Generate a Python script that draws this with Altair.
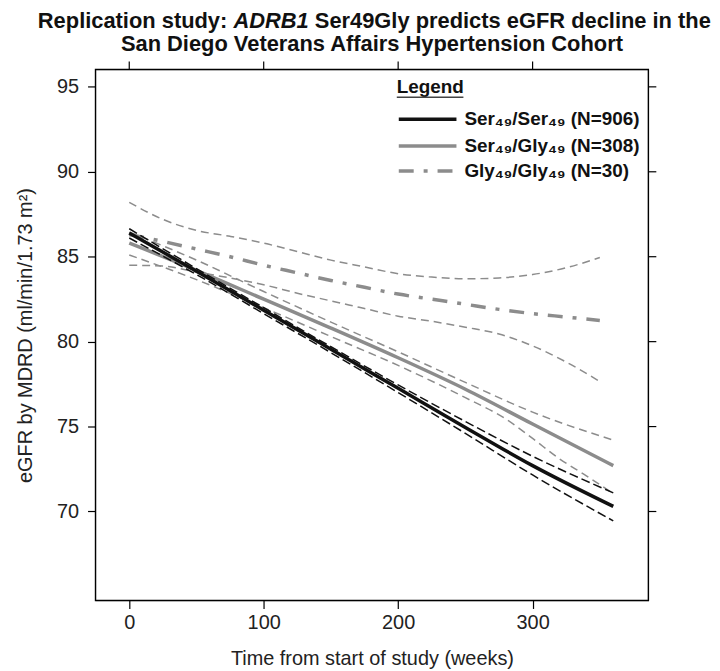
import altair as alt
import pandas as pd

FONT = "Liberation Sans"
BLACK = "#111111"
GREY = "#8c8c8c"

# ---- data ----
weeks_ser = [0, 50, 100, 150, 200, 250, 300, 360]
serser_mean = [86.4, 84.15, 81.85, 79.55, 77.25, 74.95, 72.7, 70.3]
serser_upper = [86.65, 84.3, 82.0, 79.7, 77.45, 75.3, 73.25, 71.1]
serser_lower = [86.1, 83.95, 81.65, 79.35, 77.0, 74.6, 72.15, 69.45]

sergly_mean = [85.8, 84.2, 82.5, 80.8, 79.05, 77.2, 75.15, 72.7]
sergly_upper = [86.45, 84.8, 82.95, 81.15, 79.4, 77.6, 75.85, 74.2]
weeks_sergly_lower = [0, 50, 100, 150, 200, 250, 280, 300, 320, 340, 360]
sergly_lower = [85.1, 83.65, 82.0, 80.3, 78.6, 76.7, 75.45, 74.3, 73.1, 72.1, 71.05]

weeks_gly = [0, 25, 50, 75, 100, 125, 150, 175, 200, 225, 250, 275, 300, 325, 350]
glygly_mean = [86.3, 85.9, 85.45, 85.0, 84.5, 84.05, 83.6, 83.2, 82.8, 82.5, 82.2, 81.9, 81.65, 81.45, 81.25]
glygly_upper = [88.2, 87.2, 86.55, 86.2, 85.8, 85.3, 84.8, 84.4, 84.0, 83.8, 83.7, 83.75, 83.95, 84.35, 84.95]
glygly_lower = [84.5, 84.45, 84.1, 83.75, 83.35, 82.85, 82.4, 81.95, 81.5, 81.2, 80.85, 80.45, 79.75, 78.8, 77.65]

legend_labels = ["Ser\u2084\u2089/Ser\u2084\u2089 (N=906)",
                 "Ser\u2084\u2089/Gly\u2084\u2089 (N=308)",
                 "Gly\u2084\u2089/Gly\u2084\u2089 (N=30)"]

x_ticks = [0, 100, 200, 300]
y_ticks = [70, 75, 80, 85, 90, 95]
x_domain = [-25.1, 386.1]
y_domain = [64.76, 96.02]

W, H = 556, 534

xaxis = alt.Axis(values=x_ticks, title="Time from start of study (weeks)", grid=False,
                 domain=False, tickSize=8, tickColor="black", tickWidth=1.2,
                 labelFontSize=20, labelFont=FONT, labelColor="#222", labelPadding=4,
                 titleFontSize=20, titleFont=FONT, titleFontWeight="normal", titleColor="#222",
                 titleY=64, titleBaseline="alphabetic")
yaxis = alt.Axis(values=y_ticks, title="eGFR by MDRD (ml/min/1.73 m\u00b2)", grid=False,
                 domain=False, tickSize=8, tickColor="black", tickWidth=1.2,
                 labelFontSize=20, labelFont=FONT, labelColor="#222", labelPadding=9,
                 titleFontSize=20, titleFont=FONT, titleFontWeight="normal", titleColor="#222",
                 titleX=-64, titleY=H / 2, titleBaseline="alphabetic", titleAngle=270)

X = alt.X("week:Q", scale=alt.Scale(domain=x_domain, nice=False, zero=False), axis=xaxis)
Y = alt.Y("value:Q", scale=alt.Scale(domain=y_domain, nice=False, zero=False), axis=yaxis)


def line_df(weeks, vals):
    return pd.DataFrame({"week": weeks, "value": vals})


def ci_df(wu, up, wl, lo):
    a = pd.DataFrame({"week": wu, "value": up, "bound": "upper"})
    b = pd.DataFrame({"week": wl, "value": lo, "bound": "lower"})
    return pd.concat([a, b], ignore_index=True)


series = [
    # (mean df, ci df, color, mean dash, ci dash)
    (line_df(weeks_gly, glygly_mean), ci_df(weeks_gly, glygly_upper, weeks_gly, glygly_lower),
     GREY, [15, 10, 4, 10], [8, 5]),
    (line_df(weeks_ser, sergly_mean), ci_df(weeks_ser, sergly_upper, weeks_sergly_lower, sergly_lower),
     GREY, None, [8, 5]),
    (line_df(weeks_ser, serser_mean), ci_df(weeks_ser, serser_upper, weeks_ser, serser_lower),
     BLACK, None, [9, 4]),
]

layers = []
for mean_df, cdf, color, mdash, cdash in series:
    layers.append(alt.Chart(cdf).mark_line(color=color, strokeWidth=1.5, strokeDash=cdash,
                                           interpolate="monotone")
                  .encode(x=X, y=Y, detail="bound:N"))
    kw = dict(color=color, strokeWidth=3.5, interpolate="monotone")
    if mdash:
        kw["strokeDash"] = mdash
    layers.append(alt.Chart(mean_df).mark_line(**kw).encode(x=X, y=Y))

dummy = pd.DataFrame({"k": [0]})

# plot frame
layers.append(alt.Chart(dummy).mark_rect(fill=None, fillOpacity=0, stroke="black", strokeWidth=1.4)
              .encode(x=alt.value(0), x2=alt.value(W), y=alt.value(0), y2=alt.value(H)))

# mirrored ticks on top and right
layers.append(alt.Chart(pd.DataFrame({"week": x_ticks})).mark_rule(color="black", strokeWidth=1.2)
              .encode(x=X, y=alt.value(0), y2=alt.value(-8)))
layers.append(alt.Chart(pd.DataFrame({"value": y_ticks})).mark_rule(color="black", strokeWidth=1.2)
              .encode(y=Y, x=alt.value(W), x2=alt.value(W + 8)))

# legend
LF = 19
layers.append(alt.Chart(dummy).mark_text(text="Legend", font=FONT, fontSize=LF, fontWeight="bold",
                                         align="left", baseline="alphabetic", color="#111")
              .encode(x=alt.value(303), y=alt.value(24)))
layers.append(alt.Chart(dummy).mark_rule(color="#444", strokeWidth=1.5)
              .encode(x=alt.value(303), x2=alt.value(370), y=alt.value(28)))
leg_styles = [(BLACK, None), (GREY, None), (GREY, [15, 10, 4, 10])]
rows = [50, 77, 102]
for (col, dash), lab, ry in zip(leg_styles, legend_labels, rows):
    kw = dict(color=col, strokeWidth=3.5)
    if dash:
        kw["strokeDash"] = dash
    layers.append(alt.Chart(dummy).mark_rule(**kw)
                  .encode(x=alt.value(305), x2=alt.value(363), y=alt.value(ry)))
    layers.append(alt.Chart(dummy).mark_text(text=lab, font=FONT, fontSize=LF, fontWeight="bold",
                                             align="left", baseline="alphabetic", color="#111")
                  .encode(x=alt.value(371), y=alt.value(ry + 6)))

# title (with italic gene name)
F = 22
center = 280.5
L = center - 15.393 * F
title_parts = [
    ("Replication study:", "right", "normal", L + 8.668 * F),
    ("ADRB1", "left", "italic", L + 8.946 * F),
    ("Ser49Gly predicts eGFR decline in the", "left", "normal", L + 12.668 * F),
]
for txt, al, st, xx in title_parts:
    layers.append(alt.Chart(dummy).mark_text(text=txt, font=FONT, fontSize=F, fontWeight="bold",
                                             fontStyle=st, align=al, baseline="alphabetic",
                                             color="#111")
                  .encode(x=alt.value(xx), y=alt.value(-42)))
layers.append(alt.Chart(dummy).mark_text(text="San Diego Veterans Affairs Hypertension Cohort",
                                         font=FONT, fontSize=F, fontWeight="bold", align="center",
                                         baseline="alphabetic", color="#111")
              .encode(x=alt.value(278), y=alt.value(-19)))

chart = alt.layer(*layers).properties(
    width=W, height=H,
    autosize=alt.AutoSizeParams(type="none"),
    padding={"left": 88, "top": 60, "right": 64, "bottom": 67},
).configure_view(stroke=None).configure(font=FONT)

chart.save("out.html", embed_options={"renderer": "svg", "actions": False})
